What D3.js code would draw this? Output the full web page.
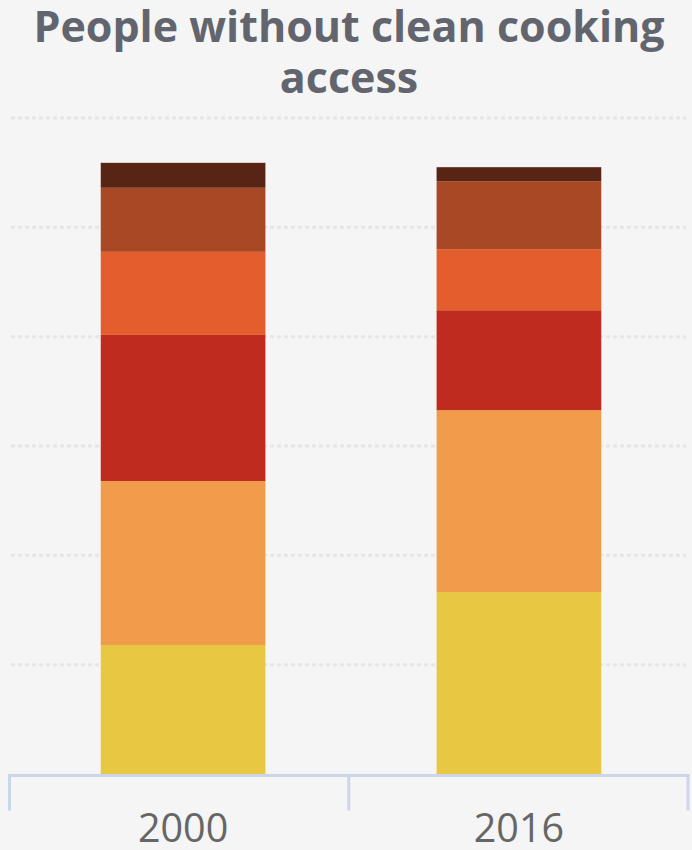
<!DOCTYPE html>
<html>
<head>
<meta charset="utf-8">
<script src="https://cdn.jsdelivr.net/npm/d3@7"></script>
<style>
  html, body { margin: 0; padding: 0; background: #f5f5f5; }
  svg { display: block; }
</style>
</head>
<body>
<svg id="chart" width="692" height="850"></svg>
<script>
// ---- data ----
const years = ["2000", "2016"];
const seriesNames = ["Sub-Saharan Africa", "Other developing Asia", "China", "India", "Latin America & Middle East", "Other"];
const seriesColors = ["#e8c842", "#f19c4a", "#bf2c1f", "#e45e2d", "#a84824", "#582414"];
const values2000 = [590, 750, 668, 380, 293, 114];   // millions of people
const values2016 = [832, 832, 457, 279, 311, 64];
const yTicks = [500, 1000, 1500, 2000, 2500, 3000];
const titleLines = ["People without clean cooking", "access"];

// ---- layout ----
const W = 692, H = 850;
const plotLeft = 9.5, plotRight = 688, plotTop = 118, plotBottom = 774;
const svg = d3.select("#chart");
svg.append("rect").attr("width", W).attr("height", H).attr("fill", "#f5f5f5");

const rows = years.map((y, i) => {
  const vals = i === 0 ? values2000 : values2016;
  const o = { year: y };
  seriesNames.forEach((s, j) => o[s] = vals[j]);
  return o;
});
const stack = d3.stack().keys(seriesNames)(rows);

// category boundaries (axis ticks)
const xCat = d3.scaleBand().domain(years).range([plotLeft, plotRight]);
// bar placement
const x = d3.scaleBand().domain(years).range([100.75, 601.25]).paddingInner(0.5097).paddingOuter(0);
const y = d3.scaleLinear().domain([0, 3000]).range([plotBottom, plotTop]);

// gridlines
svg.append("g").selectAll("line").data(yTicks).join("line")
  .attr("x1", 11).attr("x2", 686)
  .attr("y1", d => y(d)).attr("y2", d => y(d))
  .attr("stroke", "#e6e6e6").attr("stroke-width", 3)
  .attr("stroke-dasharray", "4,3");

// bars
svg.append("g").selectAll("g").data(stack).join("g")
  .attr("fill", (d, i) => seriesColors[i])
  .selectAll("rect").data(d => d).join("rect")
  .attr("x", d => x(d.data.year))
  .attr("width", x.bandwidth())
  .attr("y", d => y(d[1]))
  .attr("height", d => y(d[0]) - y(d[1]));

// x axis
const axisG = svg.append("g").attr("transform", `translate(0,${plotBottom + 1.5})`);
const xAxis = d3.axisBottom(x).tickSize(0).tickPadding(0);
axisG.call(xAxis);
axisG.select(".domain").remove();
axisG.selectAll(".tick line").remove();
axisG.append("line").attr("x1", plotLeft - 1.5).attr("x2", plotRight + 1.5)
  .attr("y1", 0).attr("y2", 0).attr("stroke", "#ccd6eb").attr("stroke-width", 3);
const tickPos = [xCat(years[0]), xCat(years[1]), plotRight];
axisG.selectAll(".boundary").data(tickPos).join("line").attr("class", "boundary")
  .attr("x1", d => d).attr("x2", d => d).attr("y1", 0).attr("y2", 35)
  .attr("stroke", "#ccd6eb").attr("stroke-width", 3);
axisG.selectAll(".tick text")
  .attr("y", 66)
  .attr("dy", 0)
  .attr("fill", "#666666")
  .style("font-family", "'Open Sans', sans-serif")
  .style("font-size", "39.5px");

// title
svg.append("text")
  .attr("x", 349).attr("text-anchor", "middle")
  .attr("fill", "#62656e")
  .style("font-family", "'Open Sans', sans-serif")
  .style("font-weight", "700")
  .style("font-size", "43px")
  .selectAll("tspan").data(titleLines).join("tspan")
  .attr("x", 349)
  .attr("y", (d, i) => 42 + i * 51)
  .text(d => d);
</script>
</body>
</html>
